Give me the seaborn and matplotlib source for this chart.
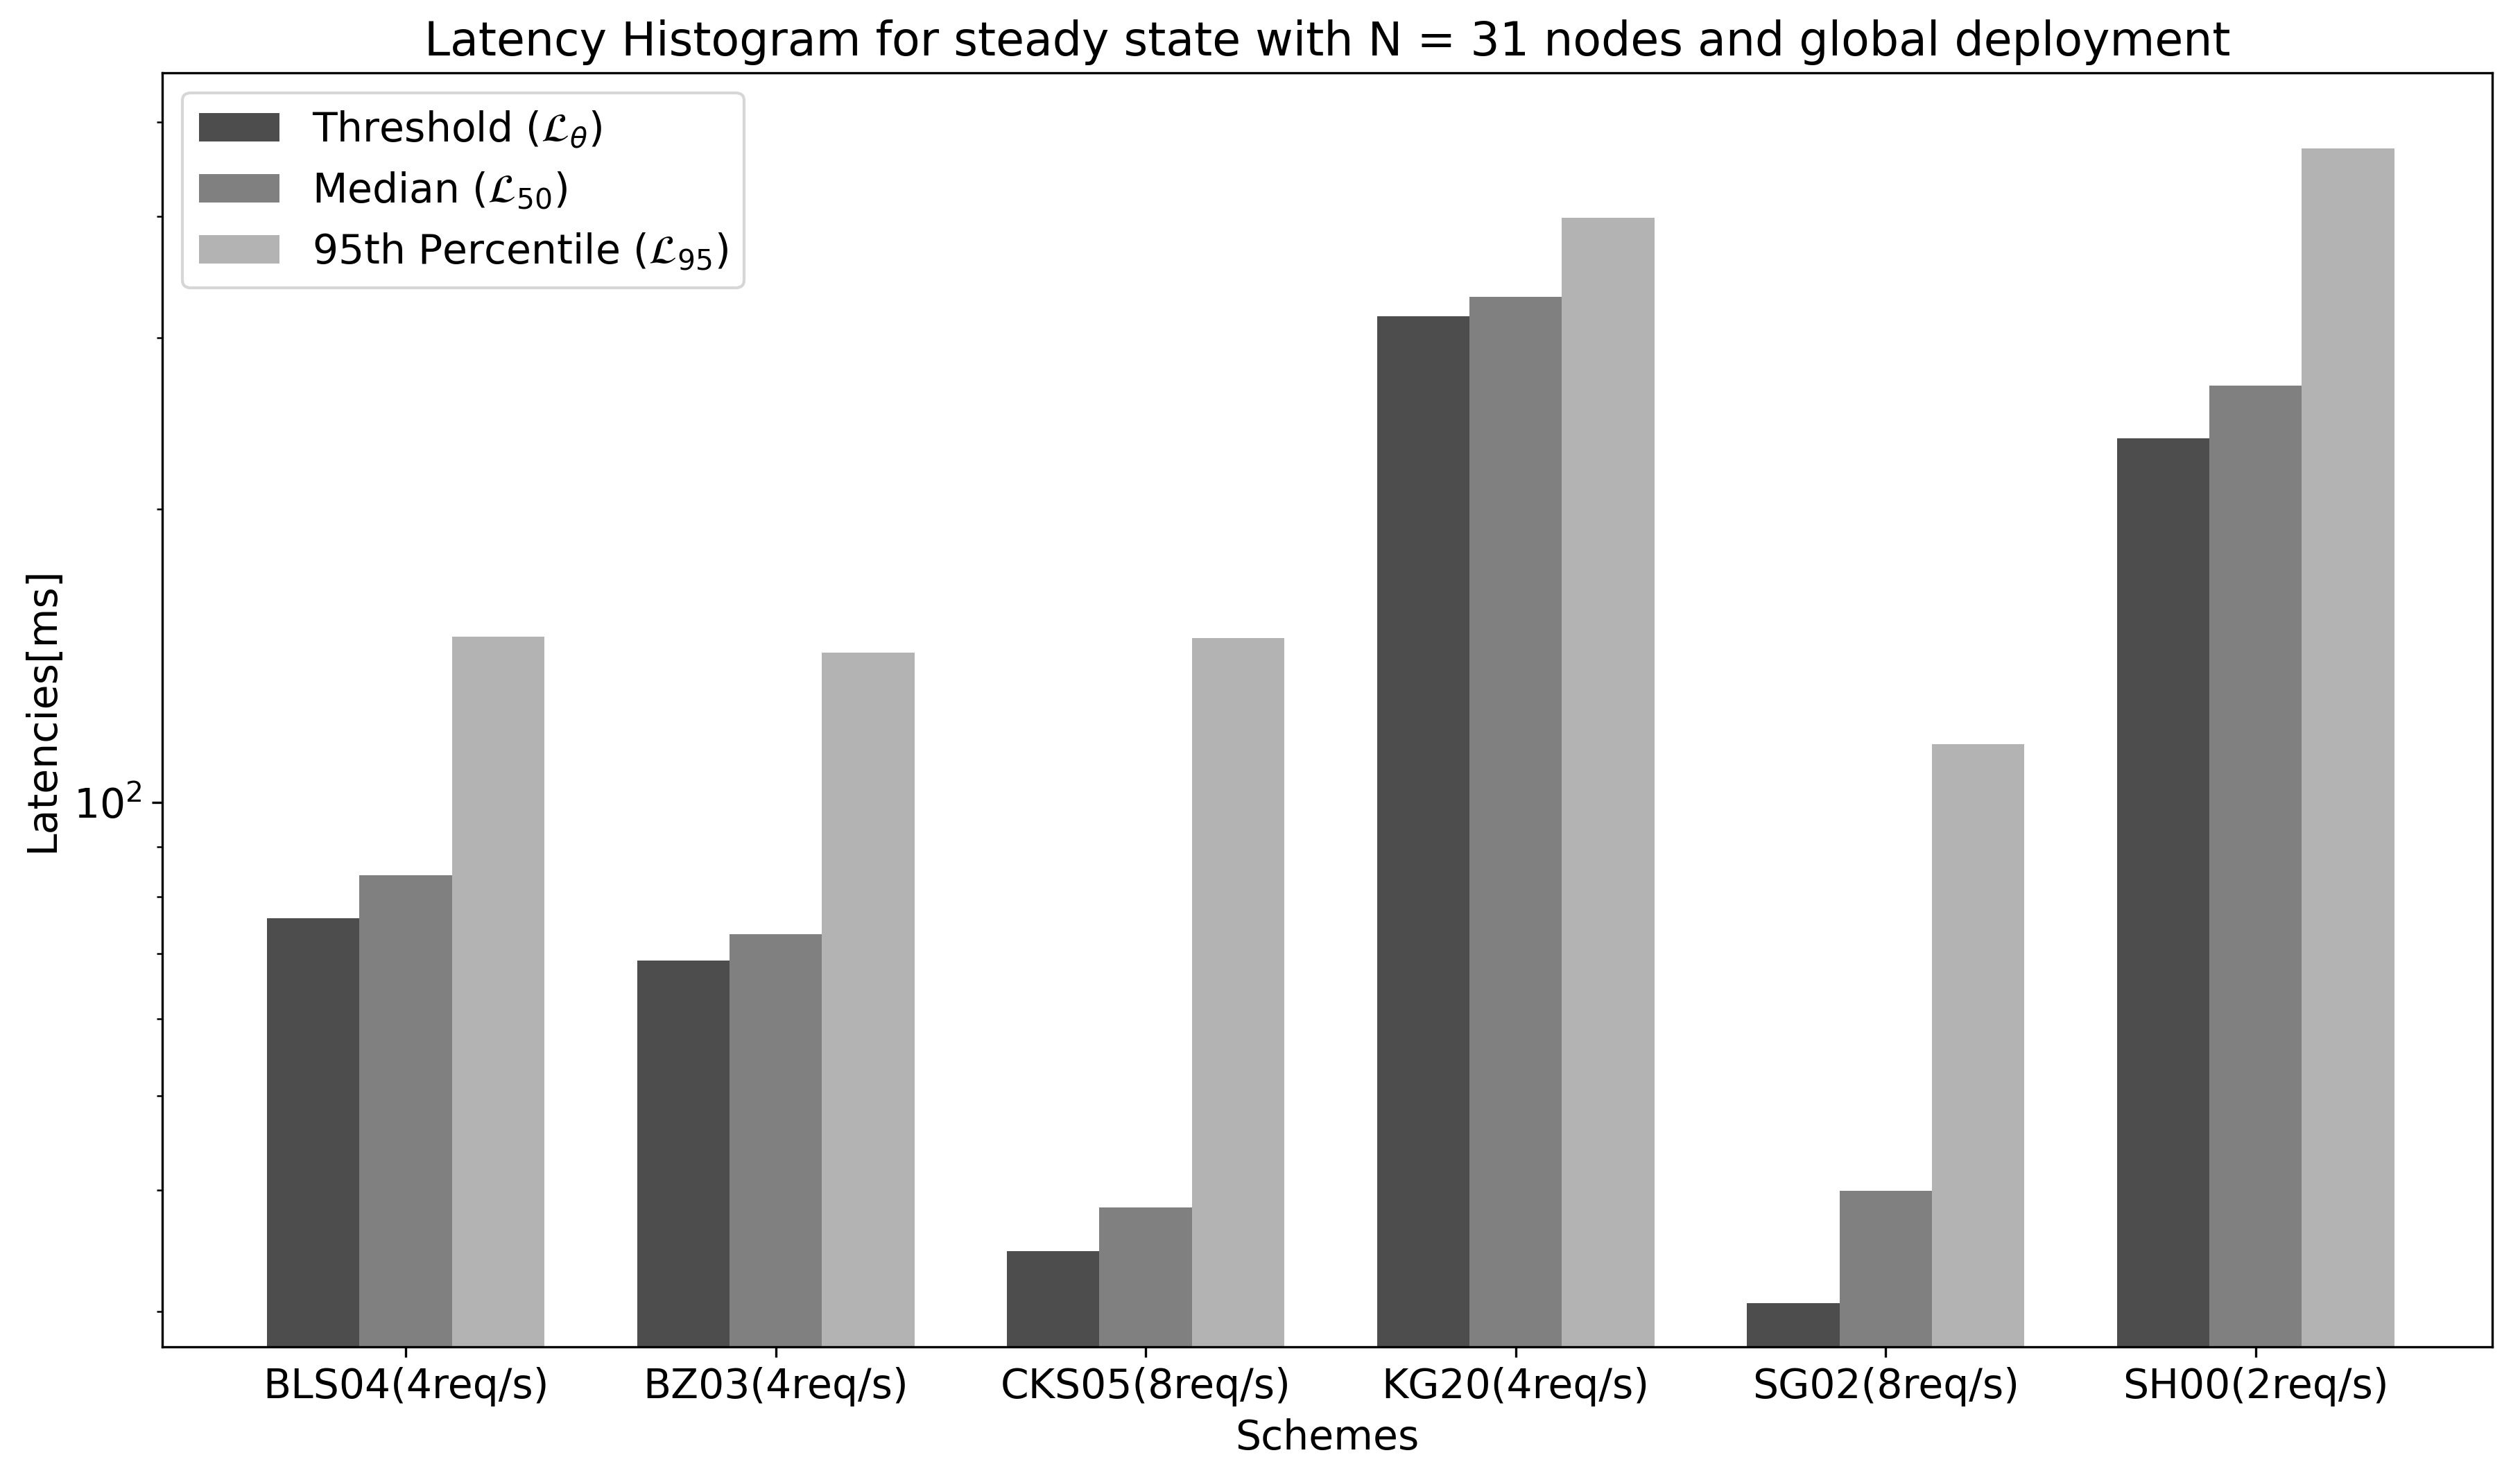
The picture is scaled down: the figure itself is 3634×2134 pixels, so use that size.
import pandas as pd
import matplotlib
matplotlib.use("Agg")
import matplotlib.pyplot as plt
import seaborn as sns

# values (ms, log axis)
schemes = ['BLS04(4req/s)', 'BZ03(4req/s)', 'CKS05(8req/s)',
           'KG20(4req/s)', 'SG02(8req/s)', 'SH00(2req/s)']
threshold = [76.0, 68.8, 34.6, 316.0, 30.6, 236.5]
median = [84.2, 73.2, 38.4, 330.7, 39.9, 268.2]
p95 = [148.0, 142.5, 147.5, 398.4, 114.7, 469.4]

metric_labels = [r'Threshold ($\mathcal{L}_\theta$)',
                 r'Median ($\mathcal{L}_{50}$)',
                 r'95th Percentile ($\mathcal{L}_{95}$)']
colors = ['0.3', '0.5', '0.7']

rows = []
for label, vals in zip(metric_labels, [threshold, median, p95]):
    for s, v in zip(schemes, vals):
        rows.append({'Scheme': s, 'Metric': label, 'Latency': v})
df = pd.DataFrame(rows)

fig = plt.figure(figsize=(3634 / 300, 2134 / 300), dpi=300)
ax = fig.add_axes([0.0644, 0.09, 0.9245, 0.861])
ax.set_yscale('log')

sns.barplot(data=df, x='Scheme', y='Latency', hue='Metric',
            hue_order=metric_labels, palette=colors, saturation=1,
            width=0.75, linewidth=0, errorbar=None, ax=ax)

ax.set_ylim(27.6, 562)
ax.set_xlim(-0.658, 5.639)
ax.set_title('Latency Histogram for steady state with N = 31 nodes and global deployment',
             fontsize=16)
ax.set_xlabel('Schemes', fontsize=14, labelpad=4)
ax.set_ylabel('Latencies[ms]', fontsize=14)
ax.tick_params(axis='both', which='major', labelsize=14)
ax.legend(loc='upper left', fontsize=14, title=None)

fig.savefig('out.png', dpi=300)
